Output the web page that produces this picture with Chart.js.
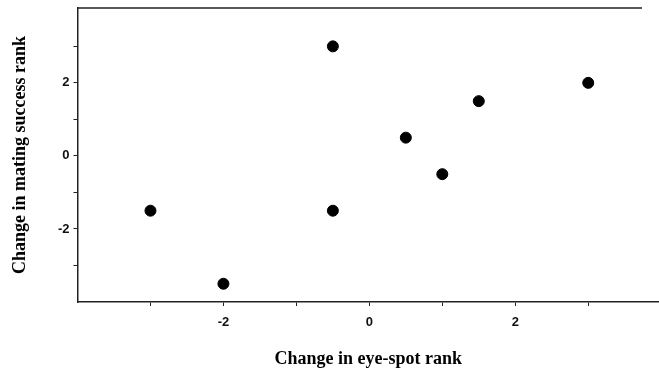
<!DOCTYPE html>
<html>
<head>
<meta charset="utf-8">
<script src="https://cdn.jsdelivr.net/npm/chart.js@4/dist/chart.umd.min.js"></script>
<style>
  html, body { margin: 0; padding: 0; background: #fff; }
  #wrap { width: 659px; height: 376px; }
</style>
</head>
<body>
<div id="wrap"><canvas id="chart"></canvas></div>
<script>
// change in eye-spot rank vs change in mating success rank
const eyeSpotChange = [-3, -2, -0.5, -0.5, 0.5, 1, 1.5, 3];
const matingChange = [-1.5, -3.5, 3, -1.5, 0.5, -0.5, 1.5, 2];
const tickValues = [-3, -2, -1, 0, 1, 2, 3];
const labelledTicks = [-2, 0, 2];

const points = eyeSpotChange.map((x, i) => ({ x, y: matingChange[i] }));

const TICK_FONT = { family: "Liberation Sans", size: 13, weight: "bold" };
const TITLE_FONT = { family: "Liberation Serif", size: 18, weight: "bold" };

// open frame: top line drawn by hand, no right side
const topLine = {
  id: "topLine",
  afterDraw(chart) {
    const { ctx, chartArea } = chart;
    ctx.save();
    ctx.strokeStyle = "#222";
    ctx.lineWidth = 1.5;
    ctx.beginPath();
    ctx.moveTo(chartArea.left, chartArea.top);
    ctx.lineTo(642, chartArea.top);
    ctx.stroke();
    ctx.restore();
  },
};

function axisTicks(scale) {
  scale.ticks = tickValues.map(v => ({ value: v }));
}

new Chart(document.getElementById("chart"), {
  type: "scatter",
  data: {
    datasets: [{
      data: points,
      backgroundColor: "#000",
      borderColor: "#000",
      pointRadius: 5.5,
      pointHoverRadius: 5.5,
    }],
  },
  options: {
    responsive: true,
    maintainAspectRatio: false,
    animation: false,
    layout: { autoPadding: false, padding: { top: 8, right: 0, bottom: 6.2, left: 9.2 } },
    plugins: { legend: { display: false }, tooltip: { enabled: false } },
    scales: {
      x: {
        type: "linear",
        min: -4,
        max: 3.97,
        afterBuildTicks: axisTicks,
        afterFit: (s) => { s.height = 67.8; s.paddingLeft = 0; s.paddingRight = 0; },
        grid: { drawOnChartArea: false, drawTicks: true, tickLength: 4, color: "#222", lineWidth: 1 },
        border: { display: true, color: "#222", width: 1.5 },
        ticks: {
          padding: 9,
          color: "#111",
          font: TICK_FONT,
          maxRotation: 0,
          autoSkip: false,
          callback: (v) => labelledTicks.includes(v) ? String(v) : "",
        },
        title: {
          display: true,
          text: "Change in eye-spot rank",
          color: "#000",
          font: TITLE_FONT,
          padding: { top: 0, bottom: 0 },
        },
      },
      y: {
        type: "linear",
        min: -4,
        max: 4.05,
        afterBuildTicks: axisTicks,
        afterFit: (s) => { s.width = 68.3; s.paddingTop = 0; s.paddingBottom = 0; },
        grid: { drawOnChartArea: false, drawTicks: true, tickLength: 4, color: "#222", lineWidth: 1 },
        border: { display: true, color: "#222", width: 1.5 },
        ticks: {
          padding: 4,
          color: "#111",
          font: TICK_FONT,
          autoSkip: false,
          callback: (v) => labelledTicks.includes(v) ? String(v) : "",
        },
        title: {
          display: true,
          text: "Change in mating success rank",
          color: "#000",
          font: TITLE_FONT,
          padding: { top: 0, bottom: 0 },
        },
      },
    },
  },
  plugins: [topLine],
});
</script>
</body>
</html>
